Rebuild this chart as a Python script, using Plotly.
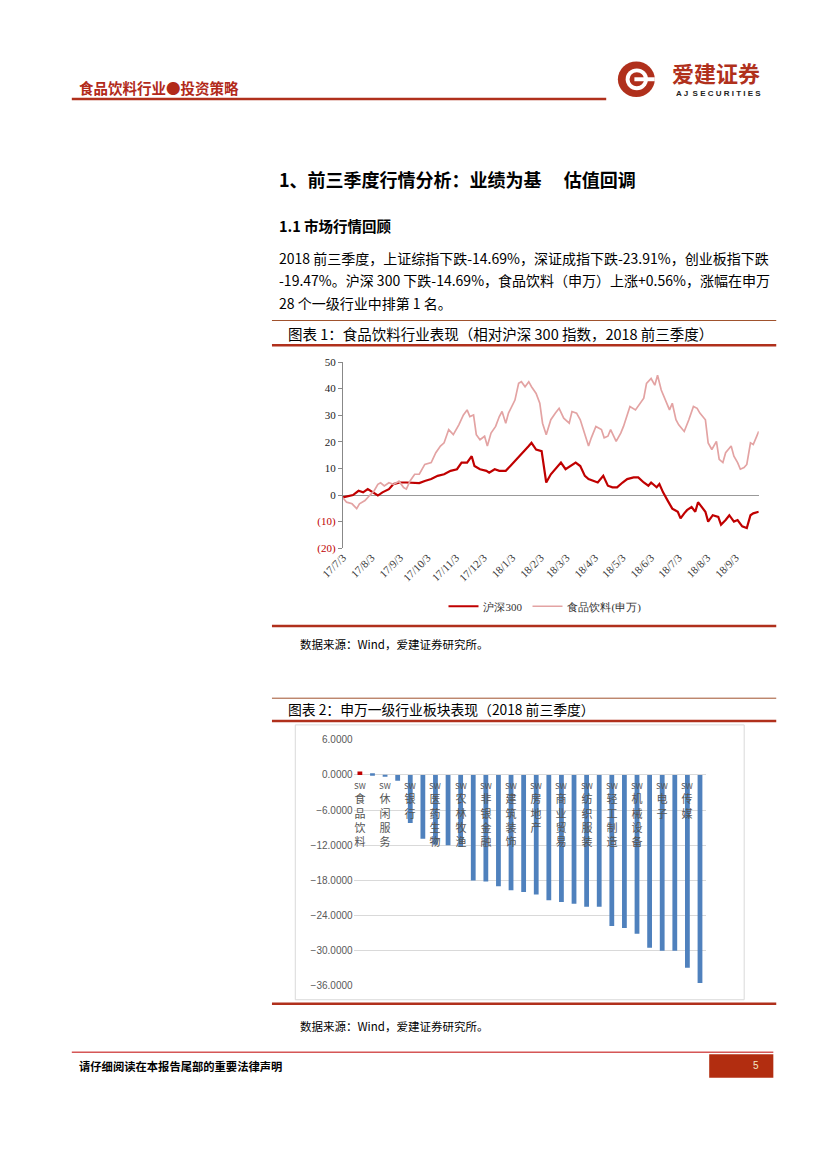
import plotly.graph_objects as go
import pandas as pd

# Page is 827x1169; the browser adds an 8px body margin, so the figure is drawn
# 16px smaller and every page coordinate is shifted by that margin.
PAGE_W, PAGE_H = 827, 1169
OFF = 8
W, H = PAGE_W - 2 * OFF, PAGE_H - 2 * OFF
CJK = "Noto Sans CJK SC"
SERIF = "Liberation Serif"
DARK_RED = "#B0301C"


def px(x):
    return (x - OFF) / W


def py(y):
    return 1 - (y - OFF) / H


# ---------------- Chart 1 data (relative performance, %) ----------------
BASE_DATE = "2017-07-03"
hs300_days = [0, 6, 11, 17, 22, 27, 32, 38, 43, 50, 55, 62, 69, 76, 83, 89, 96, 103, 110, 117,
              124, 129, 135, 140, 143, 149, 156, 159, 165, 170, 177, 182, 189, 196, 202, 205, 210,
              216, 219, 221, 226, 231, 237, 242, 247, 253, 258, 263, 267, 272, 277, 283, 288, 293,
              298, 304, 309, 316, 321, 327, 332, 335, 341, 344, 348, 353, 358, 364, 367, 371, 374,
              379, 383, 386, 390, 394, 397, 402, 408, 411, 416, 420, 425, 429, 434, 439, 443, 446, 452]
hs300_vals = [-0.9, -0.5, 0.0, 1.6, 1.0, 2.2, 1.0, -0.2, 1.0, 2.2, 4.1, 4.7, 4.7, 4.7, 4.5, 5.3, 6.0,
              7.2, 7.8, 9.1, 9.7, 12.2, 12.2, 14.6, 10.9, 9.7, 9.1, 8.4, 9.7, 9.1, 9.1, 10.9, 13.4,
              15.9, 18.4, 19.6, 17.1, 16.5, 8.4, 4.7, 7.8, 9.7, 12.2, 9.7, 10.9, 12.2, 10.9, 7.2, 6.0,
              5.3, 4.7, 7.2, 3.5, 2.9, 2.9, 4.7, 6.0, 6.6, 6.6, 4.7, 3.5, 4.7, 2.9, 4.1, 1.0, -2.1,
              -5.1, -6.3, -8.8, -6.9, -5.7, -4.5, -6.3, -2.7, -4.5, -6.3, -10.0, -7.6, -8.2, -11.2,
              -9.4, -7.6, -10.0, -9.4, -11.8, -12.4, -7.6, -6.9, -6.3]

food_days = [0, 4, 10, 15, 18, 24, 29, 34, 38, 41, 45, 50, 55, 61, 66, 69, 73, 78, 83, 89, 96, 101,
             106, 110, 115, 120, 126, 131, 135, 138, 142, 145, 149, 154, 157, 161, 166, 170, 173, 177,
             180, 184, 187, 191, 194, 198, 202, 205, 210, 214, 217, 221, 226, 231, 235, 240, 246, 249,
             254, 258, 263, 267, 270, 275, 281, 284, 288, 291, 297, 302, 305, 309, 312, 318, 323, 327,
             330, 335, 339, 342, 346, 349, 355, 358, 362, 365, 371, 376, 381, 385, 388, 394, 397, 401,
             406, 409, 413, 416, 422, 425, 429, 432, 436, 439, 443, 446, 452]
food_vals = [-1.0, -2.7, -3.3, -5.1, -3.3, -2.1, -0.2, 1.6, 4.0, 4.6, 3.4, 4.6, 4.0, 5.2, 2.8, 2.2,
             5.3, 7.8, 7.8, 11.5, 12.2, 15.9, 18.4, 19.6, 24.6, 22.7, 26.4, 30.1, 32.0, 29.5, 30.1,
             22.7, 20.8, 22.1, 18.4, 23.3, 25.8, 29.5, 31.4, 27.0, 30.8, 33.3, 35.7, 42.0, 42.6, 40.7,
             42.6, 40.7, 38.2, 34.5, 27.0, 22.7, 28.3, 30.8, 32.6, 28.9, 27.0, 31.4, 30.8, 28.3, 22.7,
             18.4, 21.5, 25.8, 24.6, 21.5, 22.1, 24.6, 20.2, 23.3, 25.8, 30.1, 33.3, 32.0, 34.5, 36.4,
             42.0, 43.8, 41.3, 45.0, 39.5, 37.0, 32.0, 34.5, 28.3, 26.4, 23.9, 28.3, 33.3, 32.6, 30.8,
             28.3, 19.6, 17.1, 20.2, 13.4, 12.2, 15.9, 18.4, 14.6, 12.2, 9.7, 10.3, 11.5, 19.6, 19.0,
             23.9]

month_ticks = ["2017-07-03", "2017-08-03", "2017-09-03", "2017-10-03", "2017-11-03", "2017-12-03",
               "2018-01-03", "2018-02-03", "2018-03-03", "2018-04-03", "2018-05-03", "2018-06-03",
               "2018-07-03", "2018-08-03", "2018-09-03"]
month_labels = ["17/7/3", "17/8/3", "17/9/3", "17/10/3", "17/11/3", "17/12/3", "18/1/3", "18/2/3",
                "18/3/3", "18/4/3", "18/5/3", "18/6/3", "18/7/3", "18/8/3", "18/9/3"]
y1_ticks = [-20, -10, 0, 10, 20, 30, 40, 50]
y1_labels = ["(20)", "(10)", "0", "10", "20", "30", "40", "50"]

# ---------------- Chart 2 data (SW level-1 industries, %) ----------------
industries = ["SW食品饮料", "SW采掘", "SW休闲服务", "SW建筑材料", "SW银行", "SW交通运输",
              "SW医药生物", "SW公用事业", "SW农林牧渔", "SW钢铁", "SW非银金融", "SW计算机",
              "SW建筑装饰", "SW通信", "SW房地产", "SW化工", "SW商业贸易", "SW国防军工",
              "SW纺织服装", "SW家用电器", "SW轻工制造", "SW电气设备", "SW机械设备", "SW汽车",
              "SW电子", "SW有色金属", "SW传媒", "SW综合"]
returns = [0.56, 0.3, -0.2, -1.0, -8.2, -10.9, -11.9, -12.0, -12.3, -18.0, -18.2, -19.0, -19.7,
           -20.0, -20.4, -21.4, -21.7, -22.0, -22.5, -22.5, -25.8, -26.1, -27.1, -29.5, -30.0,
           -30.0, -32.9, -35.5]
shown_label_step = 2

base = pd.Timestamp(BASE_DATE)
hs_dates = [base + pd.Timedelta(days=d) for d in hs300_days]
food_dates = [base + pd.Timedelta(days=d) for d in food_days]

fig = go.Figure()
fig.add_trace(go.Scatter(x=hs_dates, y=hs300_vals, mode="lines", name="沪深300",
                         line=dict(color="#C00000", width=2.2), xaxis="x", yaxis="y"))
fig.add_trace(go.Scatter(x=food_dates, y=food_vals, mode="lines", name="食品饮料(申万)",
                         line=dict(color="#E3A3A3", width=1.7), xaxis="x", yaxis="y"))

bar_colors = ["#C00000"] + ["#4F81BD"] * (len(returns) - 1)
fig.add_trace(go.Bar(x=industries, y=returns, marker=dict(color=bar_colors, line=dict(width=0)),
                     width=0.38, showlegend=False, xaxis="x2", yaxis="y2"))

shapes = []
annotations = []


def hline(x0, x1, y, color, width):
    shapes.append(dict(type="line", xref="paper", yref="paper", x0=px(x0), x1=px(x1),
                       y0=py(y), y1=py(y), line=dict(color=color, width=width)))


def text(x, y, s, size, color="#000", bold=False, family=CJK, xanchor="left", yanchor="middle"):
    if bold:
        s = "<b>" + s + "</b>"
    annotations.append(dict(xref="paper", yref="paper", x=px(x), y=py(y), text=s, showarrow=False,
                            xanchor=xanchor, yanchor=yanchor,
                            font=dict(size=size, color=color, family=family)))


# Header
text(55, 82, "食品饮料行业●投资策略", 14.5, color="#B22A1A", bold=True)
hline(50, 600, 94, DARK_RED, 2.5)
# Logo
shapes.append(dict(type="circle", xref="paper", yref="paper", x0=px(612), x1=px(650),
                   y0=py(92), y1=py(56), fillcolor=DARK_RED, line=dict(width=0)))
shapes.append(dict(type="circle", xref="paper", yref="paper", x0=px(620), x1=px(643),
                   y0=py(85), y1=py(63), fillcolor="white", line=dict(width=0)))
shapes.append(dict(type="circle", xref="paper", yref="paper", x0=px(624), x1=px(639),
                   y0=py(81), y1=py(67), fillcolor=DARK_RED, line=dict(width=0)))
shapes.append(dict(type="rect", xref="paper", yref="paper", x0=px(629), x1=px(650),
                   y0=py(76), y1=py(72), fillcolor="white", line=dict(width=0)))
text(713, 67, "爱建证券", 22, color=DARK_RED, bold=True, xanchor="center")
text(716, 88, "A J  S E C U R I T I E S", 8, color="#222", bold=True, family="Liberation Sans",
     xanchor="center")

# Section titles and paragraph
text(261, 175, "1、前三季度行情分析：业绩为基　 估值回调", 18, bold=True)
text(261, 222, "1.1 市场行情回顾", 14.5, bold=True)
text(261, 255, "2018 前三季度，上证综指下跌-14.69%，深证成指下跌-23.91%，创业板指下跌", 14)
text(261, 277, "-19.47%。沪深 300 下跌-14.69%，食品饮料（申万）上涨+0.56%，涨幅在申万", 14)
text(261, 300, "28 个一级行业中排第 1 名。", 14)

# Chart 1 frame
hline(256, 775, 318, "#A0522D", 1)
text(270, 331, "图表 1：食品饮料行业表现（相对沪深 300 指数，2018 前三季度）", 14.5)
hline(256, 775, 343, DARK_RED, 2.5)
hline(256, 775, 627, DARK_RED, 2.5)
text(283, 645, "数据来源：Wind，爱建证券研究所。", 11.5)

# Chart 2 frame
hline(256, 775, 700, "#A0522D", 1)
text(270, 711, "图表 2：申万一级行业板块表现（2018 前三季度）", 13.8)
hline(256, 775, 723, DARK_RED, 2.5)
shapes.append(dict(type="rect", xref="paper", yref="paper", x0=px(280), x1=px(742),
                   y0=py(1005), y1=py(727), line=dict(color="#D9D9D9", width=1)))
hline(256, 775, 1009, DARK_RED, 2.5)
text(283, 1032, "数据来源：Wind，爱建证券研究所。", 11.5)

# Footer
hline(50, 772, 1058, "#C00000", 1)
text(55, 1072, "请仔细阅读在本报告尾部的重要法律声明", 11.3, bold=True)
shapes.append(dict(type="rect", xref="paper", yref="paper", x0=px(706), x1=px(772),
                   y0=py(1084), y1=py(1060), fillcolor="#B22D10", line=dict(width=0)))
text(754, 1071, "5", 10, color="#F5E6C8", family="Liberation Sans", xanchor="center")

# Vertical category labels for chart 2
for i in range(0, len(industries), shown_label_step):
    name = industries[i]
    stacked = "<span style='font-size:8px'>" + name[:2] + "</span><br>" + "<br>".join(name[2:])
    annotations.append(dict(xref="x2", yref="y2", x=name, y=0, text=stacked, showarrow=False,
                            xanchor="center", yanchor="top", yshift=-3, align="center",
                            font=dict(size=11, color="#555555", family=CJK)))

y1_text = [("<span style='color:#C00000'>" + t + "</span>") if v < 0 else t
           for t, v in zip(y1_labels, y1_ticks)]

fig.update_layout(
    width=W, height=H, autosize=False,
    margin=dict(l=0, r=0, t=0, b=0),
    paper_bgcolor="white", plot_bgcolor="white",
    shapes=shapes, annotations=annotations,
    showlegend=True,
    legend=dict(orientation="h", x=px(537), xanchor="center", y=py(607), yanchor="middle",
                font=dict(size=11, family=SERIF, color="#333"), bgcolor="rgba(0,0,0,0)",
                itemwidth=30, tracegroupgap=0),
    xaxis=dict(domain=[px(329), px(757)], type="date", range=["2017-07-03", "2018-09-28"],
               tickvals=month_ticks, ticktext=month_labels, tickangle=-45,
               showgrid=False, zeroline=False, showline=False, ticks="",
               tickfont=dict(size=11, family=SERIF, color="#333"), anchor="y"),
    yaxis=dict(domain=[py(548.3), py(360)], range=[-20, 50], tickvals=y1_ticks, ticktext=y1_text,
               showgrid=False, zeroline=True, zerolinecolor="#999999", zerolinewidth=1,
               showline=True, linecolor="#888888", linewidth=1, ticks="outside", ticklen=4,
               tickcolor="#888888", tickfont=dict(size=11, family=SERIF, color="#222"),
               anchor="x"),
    xaxis2=dict(domain=[px(340), px(703)], type="category", range=[-0.5, len(industries) - 0.5],
                showticklabels=False, showgrid=False, zeroline=False, showline=False, ticks="",
                anchor="y2"),
    yaxis2=dict(domain=[py(991), py(742)], range=[-36, 6], dtick=6, tickformat=".4f",
                showgrid=True, gridcolor="#D9D9D9", gridwidth=1, zeroline=True,
                zerolinecolor="#D9D9D9", zerolinewidth=1, showline=False,
                tickfont=dict(size=10, family="Liberation Sans", color="#595959"), anchor="x2"),
    bargap=0.6,
)

fig.write_html("out.html")
